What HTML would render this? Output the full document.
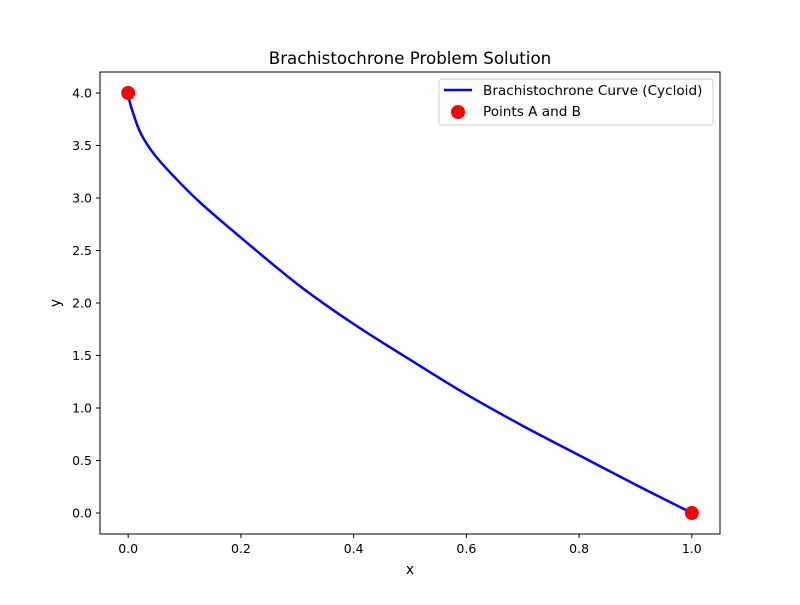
<!DOCTYPE html>
<html><head><meta charset="utf-8"><style>
body{margin:0;background:#fff}
svg text{font-family:"DejaVu Sans","Liberation Sans",sans-serif;fill:#000}
</style></head><body>
<svg id="chart" width="800" height="600" viewBox="0 0 800 600">
<rect width="800" height="600" fill="#fff"/>
<text x="410" y="64" font-size="16.7" text-anchor="middle">Brachistochrone Problem Solution</text>
<g id="ticks"></g>
<path id="curve" fill="none" stroke="#0000ff" stroke-width="2.5"/>
<g id="pts"></g>
<rect x="100" y="72" width="620" height="462" fill="none" stroke="#000" stroke-width="1"/>
<text x="410" y="574" font-size="13.9" text-anchor="middle">x</text>
<text x="60" y="303" font-size="13.9" text-anchor="middle" transform="rotate(-90 60 303)">y</text>
<g>
<rect x="439" y="79" width="274" height="46" rx="3" fill="#fff" stroke="#ccc"/>
<line x1="444" y1="90" x2="472" y2="90" stroke="#0000ff" stroke-width="2.5"/>
<text x="483" y="95" font-size="13.6">Brachistochrone Curve (Cycloid)</text>
<circle cx="458" cy="112" r="7" fill="#ff0000"/>
<text x="483" y="116" font-size="13.6">Points A and B</text>
</g>
</svg>
<script>
const curveX=[0,0.002,0.008,0.021,0.04,0.068,0.127,0.216,0.305,0.4,0.5,0.6,0.7,0.8,0.9,1.0];
const curveY=[4,3.93,3.82,3.63,3.46,3.28,2.96,2.55,2.16,1.80,1.46,1.13,0.83,0.55,0.27,0];
const pointX=[0,1];
const pointY=[4,0];
const xTicks=[0,0.2,0.4,0.6,0.8,1.0];
const xTickLabels=["0.0","0.2","0.4","0.6","0.8","1.0"];
const yTicks=[0,0.5,1,1.5,2,2.5,3,3.5,4];
const yTickLabels=["0.0","0.5","1.0","1.5","2.0","2.5","3.0","3.5","4.0"];
const NS="http://www.w3.org/2000/svg";
function sx(v){return 100+(v+0.05)/1.1*620;}
function sy(v){return 534-(v+0.2)/4.4*462;}
const tg=document.getElementById('ticks');
xTicks.forEach((t,i)=>{
 const l=document.createElementNS(NS,'line');
 l.setAttribute('x1',sx(t));l.setAttribute('x2',sx(t));l.setAttribute('y1',534);l.setAttribute('y2',538);l.setAttribute('stroke','#000');
 
 
 tg.appendChild(l);
 const tx=document.createElementNS(NS,'text');
 tx.setAttribute('x',sx(t));tx.setAttribute('y',553);tx.setAttribute('font-size','12.5');tx.setAttribute('text-anchor','middle');
 tx.textContent=xTickLabels[i];
 
 
 tg.appendChild(tx);
});
yTicks.forEach((t,i)=>{
 const l=document.createElementNS(NS,'line');
 l.setAttribute('x1',96);l.setAttribute('x2',100);l.setAttribute('y1',sy(t));l.setAttribute('y2',sy(t));l.setAttribute('stroke','#000');
 
 
 tg.appendChild(l);
 const tx=document.createElementNS(NS,'text');
 tx.setAttribute('x',92);tx.setAttribute('y',sy(t)+4.5);tx.setAttribute('font-size','12.5');tx.setAttribute('text-anchor','end');
 tx.textContent=yTickLabels[i];
 
 
 tg.appendChild(tx);
});
const P=curveX.map((x,i)=>[sx(x),sy(curveY[i])]);
let d='M'+P[0][0].toFixed(2)+' '+P[0][1].toFixed(2);
for(let i=0;i<P.length-1;i++){
 const p0=P[i-1]||P[i],p1=P[i],p2=P[i+1],p3=P[i+2]||P[i+1];
 const c1=[p1[0]+(p2[0]-p0[0])/6,p1[1]+(p2[1]-p0[1])/6];
 const c2=[p2[0]-(p3[0]-p1[0])/6,p2[1]-(p3[1]-p1[1])/6];
 d+=' C'+c1.map(v=>v.toFixed(2)).join(' ')+' '+c2.map(v=>v.toFixed(2)).join(' ')+' '+p2[0].toFixed(2)+' '+p2[1].toFixed(2);
}
document.getElementById('curve').setAttribute('d',d);
const pg=document.getElementById('pts');
pointX.forEach((x,i)=>{
 const c=document.createElementNS(NS,'circle');
 c.setAttribute('cx',sx(x));c.setAttribute('cy',sy(pointY[i]));c.setAttribute('r',7);c.setAttribute('fill','#ff0000');
 
 
 pg.appendChild(c);
});
</script>
</body></html>
